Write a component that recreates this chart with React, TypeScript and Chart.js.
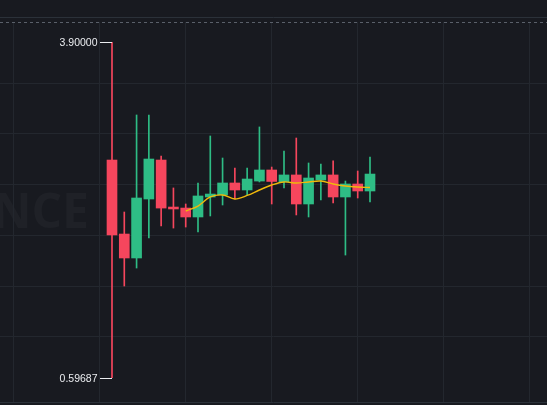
import { useEffect, useRef } from 'react';
import { Chart, registerables } from 'chart.js';

Chart.register(...registerables);

// ---- data ----
const candleIndex = [0, 1, 2, 3, 4, 5, 6, 7, 8, 9, 10, 11, 12, 13, 14, 15, 16, 17, 18, 19, 20, 21];
const opens = [2.741, 2.012, 1.776, 2.357, 2.741, 2.278, 2.268, 2.180, 2.377, 2.397, 2.515, 2.446, 2.534, 2.643, 2.525, 2.594, 2.308, 2.544, 2.594, 2.377, 2.505, 2.436];
const highs = [3.9, 2.229, 3.185, 3.185, 2.781, 2.466, 2.308, 2.515, 2.978, 2.761, 2.663, 2.663, 3.067, 2.672, 2.830, 2.958, 2.712, 2.702, 2.732, 2.534, 2.633, 2.771];
const lows = [0.59687, 1.500, 1.677, 1.973, 2.091, 2.071, 2.081, 2.032, 2.190, 2.298, 2.357, 2.397, 2.525, 2.308, 2.466, 2.200, 2.180, 2.347, 2.318, 1.805, 2.367, 2.328];
const closes = [2.003, 1.776, 2.367, 2.751, 2.268, 2.259, 2.180, 2.387, 2.406, 2.515, 2.446, 2.554, 2.643, 2.530, 2.594, 2.308, 2.564, 2.594, 2.377, 2.505, 2.436, 2.603];
const ma7 = [null, null, null, null, null, null, 2.239, 2.288, 2.377, 2.397, 2.357, 2.392, 2.446, 2.495, 2.525, 2.515, 2.525, 2.534, 2.505, 2.485, 2.475, 2.470];
const xGridTicks = [-8, -1, 6, 13, 20, 27, 34];
const yGridTicks = [1.0, 1.5, 2.0, 2.5, 3.0, 3.5];

// ---- styles ----
const BG = '#181a20';
const GRID = '#23272e';
const UP = '#2ebd85';
const DOWN = '#f6465d';
const MA_COLOR = '#f0b90b';

const candleColors = candleIndex.map((i) => (closes[i] >= opens[i] ? UP : DOWN));

const decorPlugin = {
  id: 'decor',
  beforeDraw(chart: any) {
    const { ctx, width, height } = chart;
    ctx.save();
    ctx.fillStyle = BG;
    ctx.fillRect(0, 0, width, height);
    // watermark
    ctx.font = 'bold 48px "Open Sans", "DejaVu Sans", sans-serif';
    ctx.fillStyle = 'rgba(255,255,255,0.03)';
    ctx.textAlign = 'right';
    ctx.textBaseline = 'alphabetic';
    ctx.fillText('BINANCE', 89, 228);
    ctx.restore();
  },
  afterDraw(chart: any) {
    const { ctx, width } = chart;
    const area = chart.chartArea;
    ctx.save();
    ctx.lineWidth = 1;
    ctx.strokeStyle = '#2b3139';
    ctx.beginPath();
    ctx.moveTo(0, 17.5);
    ctx.lineTo(width, 17.5);
    ctx.stroke();
    ctx.beginPath();
    ctx.moveTo(0, Math.round(area.bottom) - 0.5);
    ctx.lineTo(width, Math.round(area.bottom) - 0.5);
    ctx.stroke();
    ctx.strokeStyle = '#5a606a';
    ctx.setLineDash([3, 3]);
    ctx.beginPath();
    ctx.moveTo(0, Math.round(area.top) + 0.5);
    ctx.lineTo(width, Math.round(area.top) + 0.5);
    ctx.stroke();
    ctx.restore();
  },
  afterDatasetsDraw(chart: any) {
    const { ctx } = chart;
    const xs = chart.scales.x;
    const ys = chart.scales.y;
    let hi = 0;
    let lo = 0;
    highs.forEach((v, i) => { if (v > highs[hi]) hi = i; });
    lows.forEach((v, i) => { if (v < lows[lo]) lo = i; });
    const marks = [
      { i: hi, v: highs[hi] },
      { i: lo, v: lows[lo] },
    ];
    ctx.save();
    ctx.font = '10.5px "Liberation Sans", Arial, sans-serif';
    ctx.fillStyle = '#eaecef';
    ctx.strokeStyle = '#eaecef';
    ctx.lineWidth = 1;
    ctx.textAlign = 'right';
    ctx.textBaseline = 'middle';
    marks.forEach((m) => {
      const x = xs.getPixelForValue(m.i);
      const y = Math.round(ys.getPixelForValue(m.v)) + 0.5;
      ctx.beginPath();
      ctx.moveTo(x - 12, y);
      ctx.lineTo(x, y);
      ctx.stroke();
      ctx.fillText(m.v.toFixed(5), x - 14.5, y + 0.5);
    });
    ctx.restore();
  },
};

export default function App() {
  const ref = useRef<HTMLCanvasElement | null>(null);

  useEffect(() => {
    document.body.style.margin = '0';
    document.body.style.background = BG;
    const canvas = ref.current;
    if (!canvas) return;
    const spacing = 258 / 21;
    const xMin = -112 / spacing;
    const xMax = xMin + 547 / spacing;
    const yMax = 3.5 + 61 / 101.5;
    const yMin = 3.5 - 320 / 101.5;

    const chart = new Chart(canvas, {
      type: 'bar',
      data: {
        datasets: [
          {
            type: 'line',
            label: 'MA7',
            data: candleIndex.map((i) => ({ x: i, y: ma7[i] })) as any,
            borderColor: MA_COLOR,
            borderWidth: 1.4,
            pointRadius: 0,
            tension: 0.35,
            spanGaps: false,
            order: 0,
          } as any,
          {
            label: 'body',
            data: candleIndex.map((i) => ({ x: i, y: [opens[i], closes[i]] })) as any,
            backgroundColor: candleColors,
            borderWidth: 0,
            barThickness: 10,
            minBarLength: 1,
            grouped: false,
            order: 1,
          } as any,
          {
            label: 'wick',
            data: candleIndex.map((i) => ({ x: i, y: [lows[i], highs[i]] })) as any,
            backgroundColor: candleColors,
            borderWidth: 0,
            barThickness: 1,
            grouped: false,
            order: 2,
          } as any,
        ],
      },
      options: {
        animation: false,
        responsive: false,
        devicePixelRatio: 1,
        events: [],
        layout: { padding: { top: 22, bottom: 2, left: 0, right: 0 } },
        plugins: { legend: { display: false }, tooltip: { enabled: false } },
        scales: {
          x: {
            type: 'linear',
            min: xMin,
            max: xMax,
            offset: false,
            grid: { color: GRID, drawTicks: false, offset: false, lineWidth: 1 },
            border: { display: false },
            ticks: { display: false },
            afterBuildTicks: (s: any) => { s.ticks = xGridTicks.map((v) => ({ value: v })); },
            afterFit: (s: any) => { s.height = 0; },
          },
          y: {
            type: 'linear',
            min: yMin,
            max: yMax,
            grid: { color: GRID, drawTicks: false, lineWidth: 1 },
            border: { display: false },
            ticks: { display: false },
            afterBuildTicks: (s: any) => { s.ticks = yGridTicks.map((v) => ({ value: v })); },
            afterFit: (s: any) => { s.width = 0; },
          },
        },
      } as any,
      plugins: [decorPlugin],
    });
    return () => chart.destroy();
  }, []);

  return (
    <div style={{ position: 'fixed', left: 0, top: 0, width: 547, height: 405, background: BG }}>
      <canvas ref={ref} width={547} height={405} style={{ display: 'block', width: 547, height: 405 }} />
    </div>
  );
}
